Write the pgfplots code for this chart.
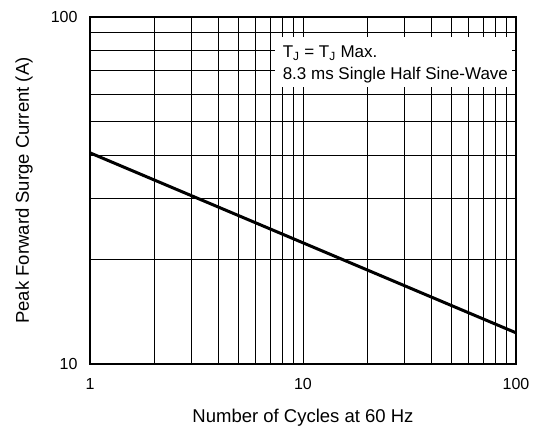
\documentclass[border=0pt]{standalone}
\usepackage{fontspec}
\setmainfont{Liberation Sans}
\usepackage{pgfplots}
\pgfplotsset{compat=1.18}
\begin{document}
\begin{tikzpicture}
\begin{loglogaxis}[
  scale only axis,
  width=426pt, height=347pt,
  xmin=1, xmax=100, ymin=10, ymax=100,
  xtick={1,10,100}, xticklabels={1,10,100},
  ytick={10,100}, yticklabels={10,100},
  minor xtick={2,3,4,5,6,7,8,9,20,30,40,50,60,70,80,90},
  minor ytick={20,30,40,50,60,70,80,90},
  major tick length=0pt, minor tick length=0pt,
  grid=both,
  major grid style={black, line width=0.9pt},
  minor grid style={black, line width=0.9pt},
  axis line style={black, line width=2.6pt},
  /pgf/number format/assume math mode=true,
  tick label style={font=\fontsize{16}{18}\selectfont},
  label style={font=\fontsize{18.5}{21}\selectfont},
  xticklabel style={yshift=-11pt},
  yticklabel style={xshift=-9pt},
  xlabel={Number of Cycles at 60 Hz},
  ylabel={Peak Forward Surge Current (A)},
  xlabel style={at={(axis description cs:0.5,-0.168)}, anchor=base},
  ylabel style={at={(axis description cs:-0.183,0.5)}, anchor=north},
  clip=true,
]
\addplot[black, line width=3pt] coordinates {(1,40.6) (100,12.3)};
\fill[white] (rel axis cs:0.434,0.798) rectangle (rel axis cs:0.991,0.942);
\node[anchor=base west, inner sep=0pt, font=\fontsize{17}{20}\selectfont]
  at (rel axis cs:0.452,0.882) {T\textsubscript{J} = T\textsubscript{J} Max.};
\node[anchor=base west, inner sep=0pt, font=\fontsize{17}{20}\selectfont]
  at (rel axis cs:0.452,0.821) {8.3 ms Single Half Sine-Wave};
\end{loglogaxis}
\pgfresetboundingbox
\path ([shift={(-90pt,-62pt)}]current axis.south west) rectangle ([shift={(23pt,17pt)}]current axis.north east);
\end{tikzpicture}
\end{document}
